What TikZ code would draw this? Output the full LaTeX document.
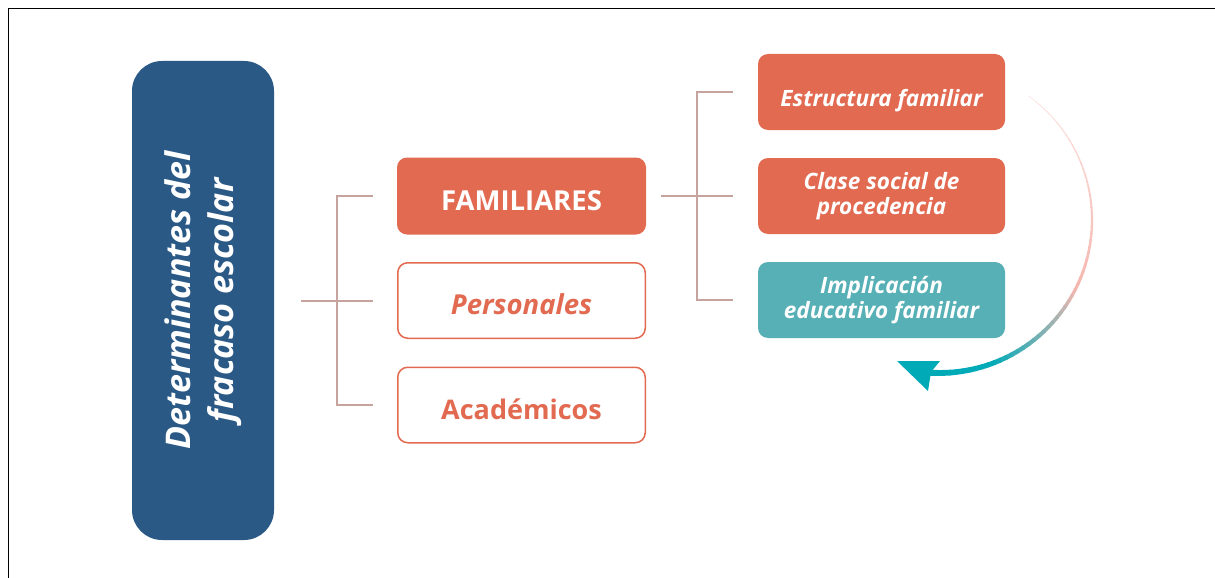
\documentclass[tikz,border=0pt]{standalone}
\usepackage{fontspec}
\setmainfont{Open Sans}
\usepackage{tikz}
\usetikzlibrary{arrows,shapes,positioning,trees}
\definecolor{detblue}{HTML}{2A5986}
\definecolor{famorange}{HTML}{E26A51}
\definecolor{famteal}{HTML}{56B0B5}
\definecolor{bracketline}{HTML}{C6A39D}
\definecolor{arcpale}{HTML}{FCE6E3}
\definecolor{arcpink}{HTML}{F5B7AF}
\definecolor{arcteal}{HTML}{00AAB7}
% one line of text, set lower in its box
\newcommand{\lowline}[2][14pt]{\raisebox{-#1}[0pt][0pt]{#2}}
\tikzset{
	basic/.style  = {inner sep=0pt, align=center, font=\bfseries},
	rootbox/.style = {basic, fill=detblue, text=white, rounded corners=30pt,
		minimum width=142pt, minimum height=479pt},
	factor/.style = {basic, fill=famorange, text=white, rounded corners=10pt,
		minimum width=249pt, minimum height=77pt, font=\bfseries\fontsize{27.5}{32}\selectfont},
	factorline/.style = {basic, draw=famorange, line width=1.5pt, fill=white, text=famorange,
		rounded corners=10pt, minimum width=247.5pt, minimum height=75.5pt,
		font=\bfseries\fontsize{27.5}{32}\selectfont},
	subfactor/.style = {basic, fill=famorange, text=white, rounded corners=10pt,
		minimum width=247pt, minimum height=76pt,
		font=\bfseries\itshape\fontsize{22.5}{25}\selectfont}
}
\begin{document}
\begin{tikzpicture}[
grow'=right,
level 1/.style={sibling distance=104.5pt, level distance=318.5pt,
	edge from parent path={([xshift=27pt]\tikzparentnode.east) -- ++(36pt,0)
		|- ([xshift=-24pt]\tikzchildnode.west)}},
level 2/.style={sibling distance=104pt, level distance=360pt,
	edge from parent path={([xshift=15pt]\tikzparentnode.east) -- ++(36pt,0)
		|- ([xshift=-25pt]\tikzchildnode.west)}},
edge from parent/.style={draw=bracketline, line width=2pt}]

\useasboundingbox (0,0) rectangle (1215pt,-578pt);
% frame
\draw[line width=1pt] (8pt,-578pt) -- (8pt,-9pt) -- (1215pt,-9pt);

% root of the tree
\node[rootbox] (det) at (203pt,-300.5pt)
	{\rotatebox{90}{\bfseries\itshape\fontsize{34}{43}\selectfont
	\begin{tabular}{@{}c@{}}Determinantes del\\fracaso escolar\end{tabular}}}
% the three kinds of factors
child {node[factor] (fam) {\lowline{FAMILIARES}}
	% family factors
	child {node[subfactor] (estr) {\lowline[15pt]{Estructura familiar}}}
	child {node[subfactor] (clase) {Clase social de\\procedencia}}
	child {node[subfactor, fill=famteal] (impl) {Implicación\\educativo familiar}}}
child {node[factorline] (pers) {\lowline{\itshape Personales}}}
child {node[factorline] (acad) {\lowline[14.5pt]{\fontsize{27}{32}\selectfont Académicos}}};

% curved arrow, pink to teal
\foreach \i in {0,...,59}{
	\pgfmathsetmacro\a{54-\i*147/60}
	\pgfmathsetmacro\b{54-(\i+1)*147/60-0.4}
	\pgfmathsetmacro\t{\i/59}
	\pgfmathsetmacro\w{0.8+5.2*\t^1.3}
	\pgfmathsetmacro\qa{min(100,\t/0.55*100)}
	\pgfmathsetmacro\qb{max(0,min(100,(\t-0.55)/0.3*100))}
	\colorlet{seglow}{arcpink!\qa!arcpale}
	\colorlet{segcol}{arcteal!\qb!seglow}
	\draw[segcol, line width=\w pt] (939pt,-220pt) ++(\a:153pt)
		arc[start angle=\a, end angle=\b, radius=153pt];
}
\fill[arcteal] (897pt,-361pt) -- (940pt,-361pt) -- (931pt,-372pt) -- (928pt,-391pt) -- cycle;

\end{tikzpicture}
\end{document}
